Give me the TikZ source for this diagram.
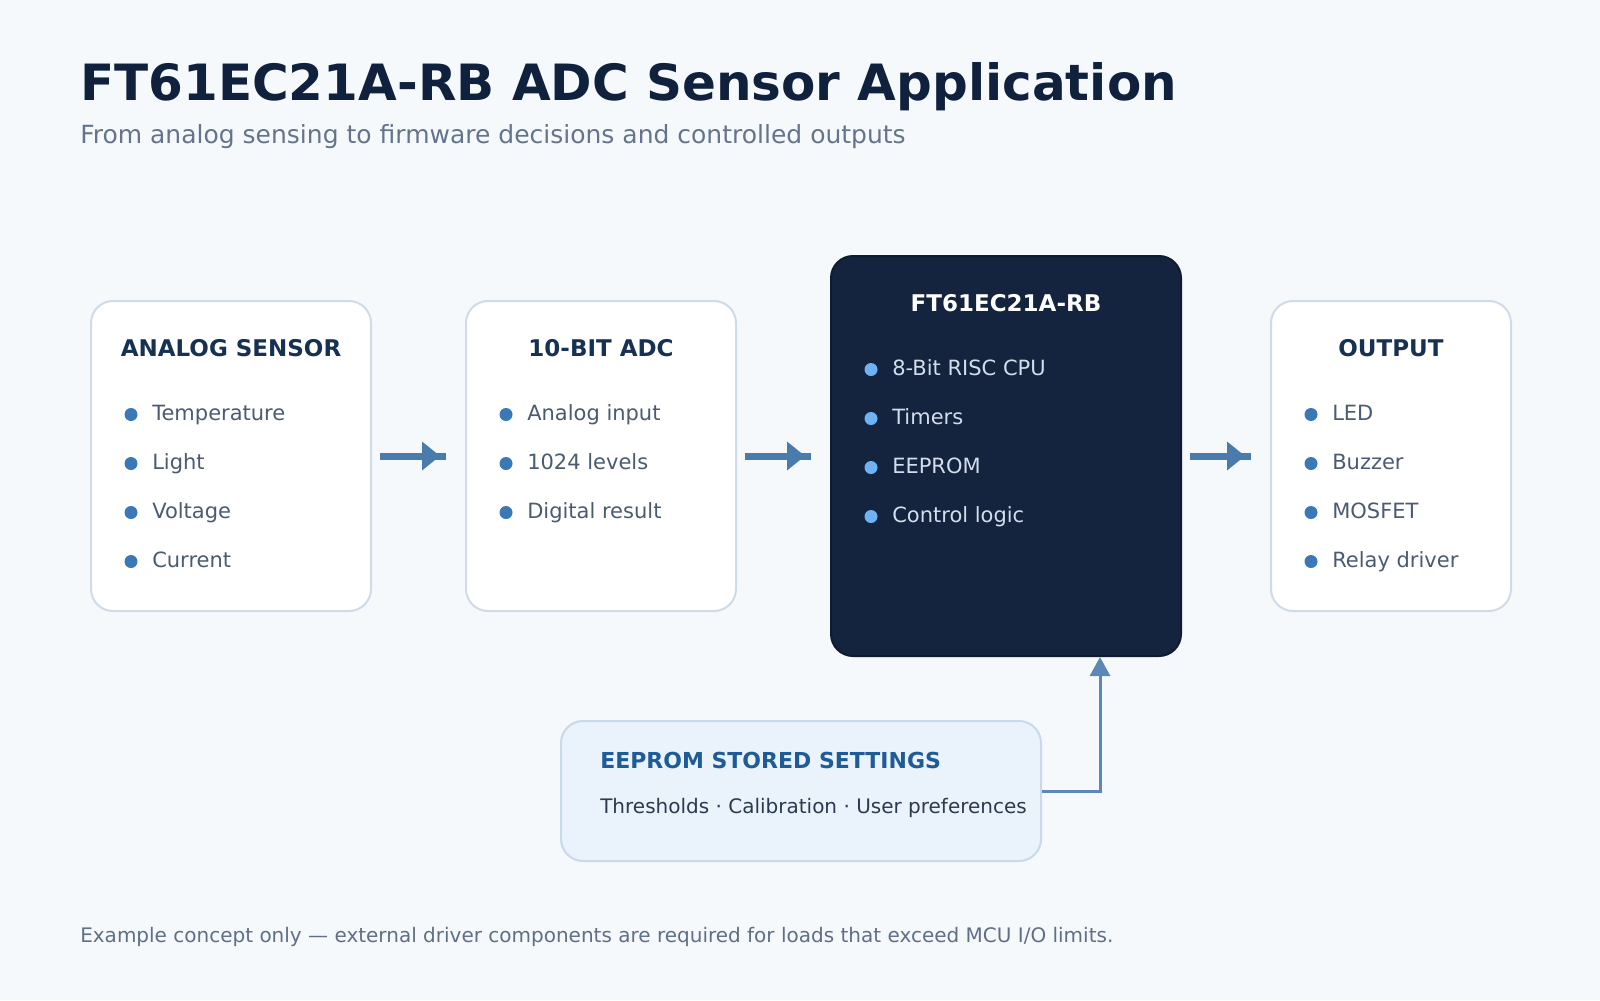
\documentclass[tikz,border=0pt]{standalone}
\usepackage{fontspec}
\setmainfont{DejaVu Sans}
\usetikzlibrary{calc,arrows.meta}
\definecolor{bg}{HTML}{F6F9FC}
\definecolor{cardline}{HTML}{CFDBE7}
\definecolor{hdrcol}{HTML}{163152}
\definecolor{titlecol}{HTML}{10213D}
\definecolor{subcol}{HTML}{64748B}
\definecolor{itemcol}{HTML}{4B5B70}
\definecolor{dotcol}{HTML}{3B78B6}
\definecolor{darkfill}{HTML}{14243F}
\definecolor{darkline}{HTML}{0E1B30}
\definecolor{darkitem}{HTML}{D3DEEB}
\definecolor{darkdot}{HTML}{6FB2F4}
\definecolor{arrowcol}{HTML}{4A7BAD}
\definecolor{linkcol}{HTML}{5B88B7}
\definecolor{eefill}{HTML}{EAF3FC}
\definecolor{eeline}{HTML}{C9D9E9}
\definecolor{eetitle}{HTML}{1F5B96}
\definecolor{eetext}{HTML}{2B3A50}
\definecolor{footcol}{HTML}{5F6F86}
\tikzset{
  card/.style={draw=cardline, line width=1.5pt, fill=white, rounded corners=16.5pt, anchor=north west, inner sep=0pt, minimum height=232.5pt},
  darkcard/.style={draw=darkline, line width=1.5pt, fill=darkfill, rounded corners=16.5pt, anchor=north west, inner sep=0pt},
  eecard/.style={draw=eeline, line width=1.5pt, fill=eefill, rounded corners=16.5pt, anchor=north west, inner sep=0pt},
  hdr/.style={anchor=base, inner sep=0pt, font=\bfseries\fontsize{17.25}{20}\selectfont, text=hdrcol},
  item/.style={anchor=base west, inner sep=0pt, font=\fontsize{15.75}{18}\selectfont, text=itemcol},
  dot/.style={circle, fill=dotcol, inner sep=0pt, minimum size=9.75pt},
  flow/.style={draw=arrowcol, line width=5.25pt},
  flowhead/.style={fill=arrowcol},
  link/.style={draw=linkcol, line width=2.25pt, -{Triangle[length=14.25pt,width=15pt]}},
  plain/.style={anchor=base west, inner sep=0pt}
}
\begin{document}
\begin{tikzpicture}[x=0.75pt,y=-0.75pt]
\useasboundingbox (0,0) rectangle (1600,1000);
\fill[bg] (0,0) rectangle (1600,1000);

\node[plain, font=\bfseries\fontsize{37.5}{44}\selectfont, text=titlecol] (title) at (80,100) {FT61EC21A-RB ADC Sensor Application};
\node[plain, font=\fontsize{18.75}{22}\selectfont, text=subcol] (subtitle) at (80,143) {From analog sensing to firmware decisions and controlled outputs};

% cards
\node[card, minimum width=210pt] (s1) at (90,300) {};
\node[card, minimum width=202.5pt] (s2) at (465,300) {};
\node[darkcard, minimum width=262.5pt, minimum height=300pt] (mcu) at (830,255) {};
\node[card, minimum width=180pt] (out) at (1270,300) {};
\node[eecard, minimum width=360pt, minimum height=105pt] (ee) at (560,720) {};

% headers
\node[hdr] (s1h) at ($(s1.north)+(0,56)$) {ANALOG SENSOR};
\node[hdr] (s2h) at ($(s2.north)+(0,56)$) {10-BIT ADC};
\node[hdr, text=white] (mcuh) at ($(mcu.north)+(0,56)$) {FT61EC21A-RB};
\node[hdr] (outh) at ($(out.north)+(0,56)$) {OUTPUT};

% items
\foreach \t [count=\i] in {Temperature, Light, Voltage, Current} {
  \node[dot] (s1d\i) at ($(s1.north west)+(41,{114.5+49*(\i-1)})$) {};
  \node[item] (s1t\i) at ($(s1.north west)+(62,{120+49*(\i-1)})$) {\t};
}
\foreach \t [count=\i] in {Analog input, 1024 levels, Digital result} {
  \node[dot] (s2d\i) at ($(s2.north west)+(41,{114.5+49*(\i-1)})$) {};
  \node[item] (s2t\i) at ($(s2.north west)+(62,{120+49*(\i-1)})$) {\t};
}
\foreach \t [count=\i] in {8-Bit RISC CPU, Timers, EEPROM, Control logic} {
  \node[dot, fill=darkdot] (mcud\i) at ($(mcu.north west)+(41,{114.5+49*(\i-1)})$) {};
  \node[item, text=darkitem] (mcut\i) at ($(mcu.north west)+(62,{120+49*(\i-1)})$) {\t};
}
\foreach \t [count=\i] in {LED, Buzzer, MOSFET, Relay driver} {
  \node[dot] (outd\i) at ($(out.north west)+(41,{114.5+49*(\i-1)})$) {};
  \node[item] (outt\i) at ($(out.north west)+(62,{120+49*(\i-1)})$) {\t};
}

% EEPROM settings text
\node[plain, font=\bfseries\fontsize{16.5}{20}\selectfont, text=eetitle] (eeh) at ($(ee.north west)+(40,48)$) {EEPROM STORED SETTINGS};
\node[plain, font=\fontsize{15}{18}\selectfont, text=eetext] (eet) at ($(ee.north west)+(40,93)$) {Thresholds · Calibration · User preferences};

% flow arrows
\draw[flow] ($(s1.east)+(8,0)$) -- ($(s2.west)+(-19,0)$);
\fill[flowhead] ($(s2.west)+(-43,-14.5)$) -- ($(s2.west)+(-25,0)$) -- ($(s2.west)+(-43,14.5)$) -- cycle;
\draw[flow] ($(s2.east)+(8,0)$) -- ($(mcu.west)+(-19,0)$);
\fill[flowhead] ($(mcu.west)+(-43,-14.5)$) -- ($(mcu.west)+(-25,0)$) -- ($(mcu.west)+(-43,14.5)$) -- cycle;
\draw[flow] ($(mcu.east)+(8,0)$) -- ($(out.west)+(-19,0)$);
\fill[flowhead] ($(out.west)+(-43,-14.5)$) -- ($(out.west)+(-25,0)$) -- ($(out.west)+(-43,14.5)$) -- cycle;

% settings link
\coordinate (linkend) at ($(mcu.south west)+(270,0)$);
\draw[link] (ee.east) -| (linkend);

% footer
\node[plain, font=\fontsize{15}{18}\selectfont, text=footcol] (foot) at (80,942) {Example concept only — external driver components are required for loads that exceed MCU I/O limits.};
\end{tikzpicture}
\end{document}
